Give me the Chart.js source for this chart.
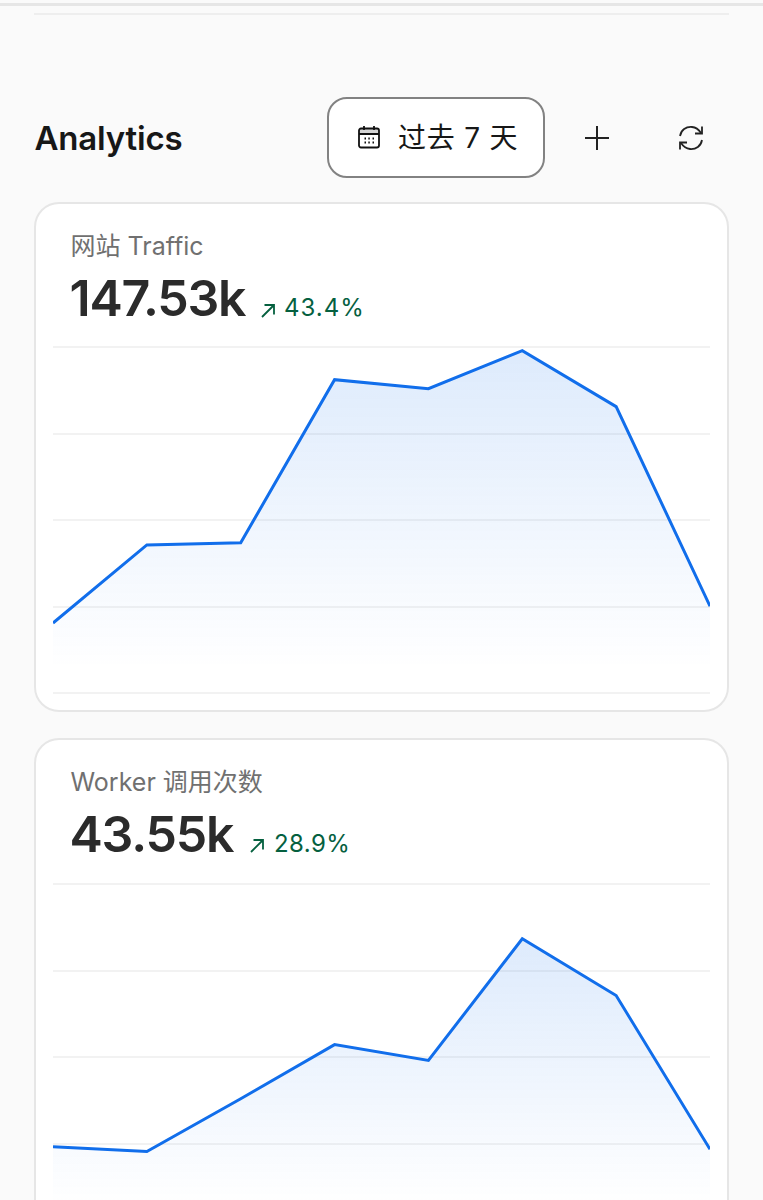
<!DOCTYPE html>
<html lang="zh">
<head>
<meta charset="utf-8">
<title>Analytics</title>
<script src="https://cdn.jsdelivr.net/npm/chart.js@4"></script>
<style>
    html, body { margin: 0; height: 100%; overflow: hidden; background: #fafafa; }
    body { position: relative; width: 763px; height: 1200px; font-family: Inter, "Noto Sans CJK SC", sans-serif; }
    .abs { position: absolute; white-space: nowrap; }
    .rule-top { left: 0; top: 3px; width: 763px; height: 3px; background: #e6e6e6; }
    .rule-sub { left: 34px; top: 13px; width: 695px; height: 2px; background: #eeeeee; }
    .title { left: 34.500px; top: 118px; font-size: 33px; line-height: 40px; font-weight: 600; color: #171717; letter-spacing: -0.2px; }
    .range { left: 327px; top: 97px; width: 214px; height: 77px; border: 2px solid #828282; border-radius: 20px; background: #fff; }
    .range span { position: absolute; left: 69px; top: 21px; font-size: 28px; line-height: 36px; color: #171717; font-weight: 400; letter-spacing: 0.8px; white-space: pre; }
    .card { left: 34px; width: 691px; background: #fff; border: 2px solid #e6e6e6; border-radius: 25px; }
    .label { left: 70.500px; font-size: 25px; line-height: 30px; color: #707070; }
    .total { left: 69.500px; font-size: 50px; line-height: 60px; font-weight: 600; color: #2b2b2b; letter-spacing: -1.200px; }
    .delta { font-size: 24px; line-height: 30px; color: #05603f; letter-spacing: 1px; }
    .plot { position: absolute; left: 53px; width: 657px; height: 350px; }
</style>
</head>
<body>
<div class="abs rule-top"></div>
<div class="abs rule-sub"></div>

<div class="abs title">Analytics</div>
<div class="abs range">
    <svg class="abs" style="left:28px;top:26px" width="24" height="24" viewBox="0 0 24 24" fill="none" stroke="#111" stroke-width="1.8">
        <path d="M2 4h20v5H2z" fill="#d4d4d4" stroke="none"/>
        <rect x="2" y="3.500" width="20" height="19" rx="2"/>
        <path d="M2 9h20M7 1v4M17 1v4"/>
        <path d="M7.500 13.500h1.500M11.300 13.500h1.500M15.500 13.500h1.500M7.500 17.500h1.500M11.300 17.500h1.500M15.500 17.500h1.500" stroke-width="2"/>
    </svg>
    <span>过去 7 天</span>
</div>
<svg class="abs" style="left:584px;top:125px" width="26" height="26" viewBox="0 0 26 26" fill="none" stroke="#222" stroke-width="2">
    <path d="M13 1v24M1 13h24"/>
</svg>
<svg class="abs" style="left:677px;top:124px" width="28" height="28" viewBox="0 0 28 28" fill="none" stroke="#222" stroke-width="1.800">
    <path d="M3 12C4 6 9 2.500 15 3c4 .3 7 3 9 6"/>
    <path d="M25 2.500V9.500H18"/>
    <path d="M25 16c-1 6-6 9.500-12 9-4-.3-7-3-9-6"/>
    <path d="M3 25.500V18.500H10"/>
</svg>

<div class="abs card" style="top:202px;height:506px"></div>
<div class="abs label" style="top:231px">网站 Traffic</div>
<div class="abs total" style="top:268px">147.53k</div>
<svg class="abs" style="left:260px;top:303px" width="16" height="16" viewBox="0 0 16 16" fill="none" stroke="#05603f" stroke-width="1.800">
    <path d="M2 14L14 2M4.500 2H14V11.500"/>
</svg>
<div class="abs delta" style="left:284px;top:293px">43.4%</div>
<div class="plot" style="top:345px"><canvas id="trafficChart"></canvas></div>

<div class="abs card" style="top:738px;height:600px"></div>
<div class="abs label" style="top:767px">Worker 调用次数</div>
<div class="abs total" style="top:804px">43.55k</div>
<svg class="abs" style="left:249px;top:838px" width="16" height="16" viewBox="0 0 16 16" fill="none" stroke="#05603f" stroke-width="1.800">
    <path d="M2 14L14 2M4.500 2H14V11.500"/>
</svg>
<div class="abs delta" style="left:274px;top:829px;letter-spacing:0.4px">28.9%</div>
<div class="plot" style="top:882px"><canvas id="workerChart"></canvas></div>

<script>
    const days = ['1', '2', '3', '4', '5', '6', '7', '8'];

    // thousands per point
    const trafficValues = [6.07, 12.84, 13.02, 27.17, 26.39, 29.68, 24.83, 7.53];
    const workerValues = [2.89, 2.72, 4.55, 6.43, 5.88, 10.1, 8.13, 2.8];

    const trafficTicks = [0, 7.5, 15, 22.5, 30];
    const workerTicks = [0, 3, 6, 9, 12];

    // fades from the peak of the series down towards the baseline
    function areaFill(context) {
        const { chart } = context;
        if (!chart.chartArea) return 'transparent';
        const values = chart.data.datasets[0].data;
        const yScale = chart.scales.y;
        const top = yScale.getPixelForValue(Math.max(...values));
        const gradient = chart.ctx.createLinearGradient(0, top, 0, chart.chartArea.bottom - 25);
        gradient.addColorStop(0, 'rgba(17, 110, 235, 0.14)');
        gradient.addColorStop(1, 'rgba(17, 110, 235, 0)');
        return gradient;
    }

    function drawArea(canvasId, values, ticks) {
        return new Chart(document.getElementById(canvasId), {
            type: 'line',
            data: {
                labels: days,
                datasets: [{
                    data: values,
                    fill: 'origin',
                    borderColor: '#116eeb',
                    borderWidth: 3,
                    backgroundColor: areaFill,
                    pointRadius: 0,
                    tension: 0
                }]
            },
            options: {
                responsive: true,
                maintainAspectRatio: false,
                animation: false,
                layout: { padding: { top: 2, bottom: 2 } },
                plugins: { legend: { display: false }, tooltip: { enabled: false } },
                scales: {
                    x: { display: false, offset: false },
                    y: {
                        min: ticks[0],
                        max: ticks[ticks.length - 1],
                        afterBuildTicks: axis => { axis.ticks = ticks.map(value => ({ value })); },
                        grid: { color: '#f2f2f2', lineWidth: 2, drawTicks: false },
                        border: { display: false },
                        ticks: { display: false }
                    }
                }
            }
        });
    }

    drawArea('trafficChart', trafficValues, trafficTicks);
    drawArea('workerChart', workerValues, workerTicks);
</script>
</body>
</html>
